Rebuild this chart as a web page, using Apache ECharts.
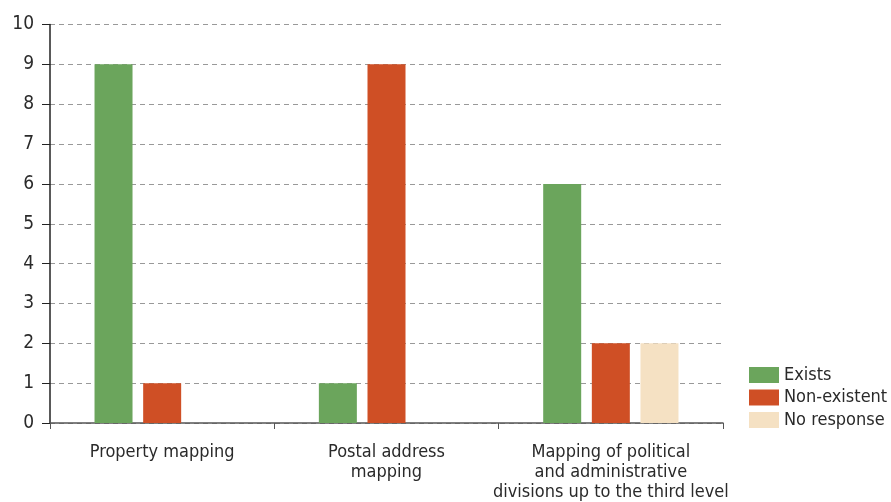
<!DOCTYPE html>
<html><head><meta charset="utf-8">
<script src="https://cdn.jsdelivr.net/npm/echarts@6/dist/echarts.min.js"></script>
<style>html,body{margin:0;padding:0;background:#fff}#c{width:891px;height:502px}</style>
</head><body><div id="c"></div>
<script>
var categories = ['Property mapping', 'Postal address\nmapping', 'Mapping of political\nand administrative\ndivisions up to the third level'];
var exists = [9, 1, 6];
var nonExistent = [1, 9, 2];
var noResponse = [null, null, 2];
var seriesNames = ['Exists', 'Non-existent', 'No response'];
var yTicks = [0,1,2,3,4,5,6,7,8,9,10];

var FONT = '"Liberation Sans Narrow", "DejaVu Sans Condensed", "Roboto", sans-serif';
var chart = echarts.init(document.getElementById('c'), null, {renderer: 'canvas'});
chart.setOption({
  animation: false,
  textStyle: {fontFamily: FONT},
  legend: {
    orient: 'vertical', left: 744, top: 361, icon: 'rect',
    itemWidth: 30, itemHeight: 16, itemGap: 4.5,
    textStyle: {fontFamily: FONT, fontSize: 18, color: '#2a2a2a', lineHeight: 16},
    data: seriesNames
  },
  grid: {left: 50, right: 168, top: 24.5, bottom: 77.5, containLabel: false},
  xAxis: {
    type: 'category', data: categories,
    axisLine: {lineStyle: {color: '#555', width: 1.5}},
    axisTick: {show: true, length: 6, lineStyle: {color: '#555'}},
    axisLabel: {fontFamily: FONT, fontSize: 18, color: '#2a2a2a', margin: 19, lineHeight: 20, interval: 0}
  },
  yAxis: {
    type: 'value', min: yTicks[0], max: yTicks[yTicks.length-1], interval: 1,
    axisLine: {show: true, lineStyle: {color: '#222', width: 1.5}},
    axisTick: {show: true, length: 8, lineStyle: {color: '#222'}},
    axisLabel: {fontFamily: FONT, fontSize: 19, color: '#2a2a2a', margin: 16},
    splitLine: {lineStyle: {color: '#999', type: [5, 4], width: 1}}
  },
  series: [
    {name: seriesNames[0], type: 'bar', data: exists, barWidth: 38, barGap: '28%', itemStyle: {color: '#6ba55c'}},
    {name: seriesNames[1], type: 'bar', data: nonExistent, barWidth: 38, barGap: '28%', itemStyle: {color: '#cf4f25'}},
    {name: seriesNames[2], type: 'bar', data: noResponse, barWidth: 38, barGap: '28%', itemStyle: {color: '#f5e1c3'}}
  ]
});
</script></body></html>
